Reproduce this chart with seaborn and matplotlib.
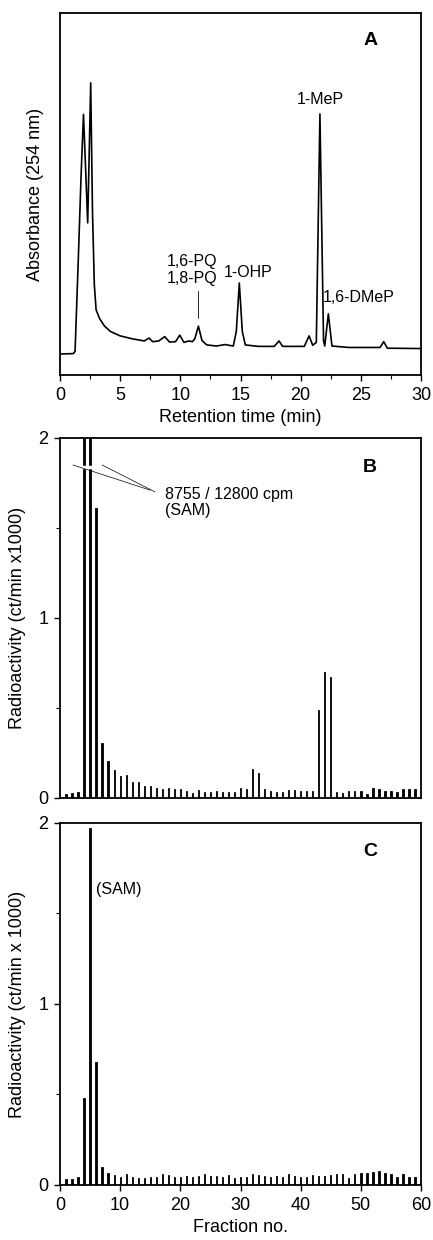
import numpy as np
import pandas as pd
import matplotlib
matplotlib.use('Agg')
import matplotlib.pyplot as plt
import seaborn as sns

sns.set_style('ticks')
plt.rcParams['font.family'] = ['Liberation Sans', 'DejaVu Sans']
plt.rcParams['text.color'] = 'black'
plt.rcParams['axes.labelcolor'] = 'black'

# panel A: chromatogram trace (time in min, absorbance in arbitrary units)
ret_time = [0, 1.1, 1.25, 1.5, 1.75, 1.95, 2.15, 2.3, 2.45, 2.55, 2.7, 2.85, 3.0, 3.3, 3.7,
            4.2, 5.0, 6.0, 7.0, 7.4, 7.7, 8.2, 8.7, 9.1, 9.6, 9.95, 10.3, 10.7, 11.0, 11.2,
            11.5, 11.8, 12.2, 13.0, 13.7, 14.4, 14.65, 14.9, 15.15, 15.4, 16.5, 17.8, 18.2,
            18.5, 20.3, 20.7, 21.0, 21.3, 21.6, 21.9, 22.0, 22.3, 22.6, 24.0, 26.6, 26.9,
            27.2, 30]
absorbance = [5.8, 5.9, 6.5, 30, 55, 72, 55, 42, 65, 80.7, 45, 25, 18, 15.5, 13.5,
              12, 10.8, 10.0, 9.4, 10.2, 9.2, 9.4, 10.6, 9.1, 9.2, 11.0, 9.0, 9.4, 9.2, 10,
              13.5, 9.5, 8.3, 8.0, 8.4, 8.0, 12, 25.4, 12, 8.3, 7.9, 7.9, 9.4,
              7.9, 7.9, 10.8, 8.2, 9, 72.1, 9.5, 8.0, 16.9, 8.0, 7.6, 7.6, 9.2,
              7.4, 7.3]

# panels B and C: radioactivity per fraction (ct/min x1000)
fractions = list(range(1, 60))
radio_b = [0.02, 0.026, 0.034, 8.755, 12.8, 1.61, 0.306, 0.205, 0.155, 0.121,
           0.125, 0.088, 0.091, 0.065, 0.065, 0.054, 0.047, 0.056, 0.047, 0.052,
           0.04, 0.028, 0.045, 0.034, 0.034, 0.037, 0.034, 0.034, 0.034, 0.054,
           0.05, 0.16, 0.136, 0.05, 0.04, 0.035, 0.034, 0.045, 0.045, 0.04,
           0.04, 0.04, 0.49, 0.70, 0.67, 0.032, 0.026, 0.037, 0.037, 0.037,
           0.022, 0.054, 0.05, 0.04, 0.04, 0.034, 0.048, 0.048, 0.048]
radio_c = [0.031, 0.031, 0.042, 0.48, 1.97, 0.68, 0.10, 0.068, 0.057, 0.046,
           0.061, 0.042, 0.039, 0.039, 0.046, 0.046, 0.059, 0.053, 0.046, 0.046,
           0.05, 0.042, 0.05, 0.061, 0.05, 0.05, 0.046, 0.057, 0.037, 0.046,
           0.042, 0.059, 0.053, 0.05, 0.046, 0.05, 0.046, 0.059, 0.05, 0.042,
           0.046, 0.053, 0.05, 0.05, 0.053, 0.061, 0.059, 0.039, 0.061, 0.068,
           0.068, 0.07, 0.077, 0.066, 0.061, 0.042, 0.059, 0.042, 0.042]

fig = plt.figure(figsize=(4.33, 12.40), dpi=100)
axA = fig.add_axes([0.1386, 0.6976, 0.8337, 0.2919])
axB = fig.add_axes([0.1386, 0.3565, 0.8337, 0.2903])
axC = fig.add_axes([0.1386, 0.0444, 0.8337, 0.2919])

fs = 13
lfs = 11.5
for ax in (axA, axB, axC):
    for s in ax.spines.values():
        s.set_linewidth(1.3)
        s.set_color('black')
    ax.tick_params(which='major', direction='out', length=4.5, width=1.0, labelsize=fs,
                   colors='black', pad=4)
    ax.tick_params(which='minor', direction='out', length=3, width=0.8, colors='black')

# A
dfA = pd.DataFrame({'t': ret_time, 'abs': absorbance})
sns.lineplot(data=dfA, x='t', y='abs', ax=axA, color='black', linewidth=1.2)
axA.set_xlim(0, 30)
axA.set_ylim(0, 100)
axA.set_xticks(range(0, 31, 5))
axA.set_xticks(np.arange(0, 30.1, 2.5), minor=True)
axA.set_yticks([])
axA.set_xlabel('Retention time (min)', fontsize=fs, labelpad=4)
axA.set_ylabel('Absorbance (254 nm)', fontsize=fs)
axA.yaxis.set_label_coords(-0.045, 0.5)
axA.text(0.859, 0.925, 'A', transform=axA.transAxes, fontsize=14, fontweight='bold', ha='center', va='center')
axA.text(21.6, 74, '1-MeP', fontsize=lfs, ha='center', va='bottom')
axA.text(11.0, 24.5, '1,6-PQ\n1,8-PQ', fontsize=lfs, ha='center', va='bottom', linespacing=1.15)
axA.plot([11.45, 11.45], [15.7, 23.3], color='black', linewidth=0.6)
axA.text(15.6, 26.3, '1-OHP', fontsize=lfs, ha='center', va='bottom')
axA.text(21.85, 21.5, '1,6-DMeP', fontsize=lfs, ha='left', va='center')

# B
dfB = pd.DataFrame({'fraction': fractions, 'cpm': radio_b})
sns.barplot(data=dfB, x='fraction', y='cpm', native_scale=True, ax=axB, color='black',
            width=0.22, edgecolor='black', linewidth=0.6)
axB.set_xlim(0, 60)
axB.set_ylim(0, 2)
axB.set_xticks([])
axB.set_yticks([0, 1, 2])
axB.set_yticks([0.5, 1.5], minor=True)
axB.set_xlabel('')
axB.set_ylabel('Radioactivity (ct/min x1000)', fontsize=fs)
axB.yaxis.set_label_coords(-0.095, 0.5)
# break mark on the off-scale bars
axB.plot([3.5, 5.5], [1.84, 1.84], color='white', linewidth=2.5, solid_capstyle='butt')
axB.plot([2.15, 15.0], [1.85, 1.71], color='black', linewidth=0.5)
axB.plot([7.0, 15.8], [1.85, 1.70], color='black', linewidth=0.5)
axB.text(17.5, 1.73, '8755 / 12800 cpm\n(SAM)', fontsize=lfs, ha='left', va='top', linespacing=1.15)
axB.text(0.859, 0.919, 'B', transform=axB.transAxes, fontsize=14, fontweight='bold', ha='center', va='center')

# C
dfC = pd.DataFrame({'fraction': fractions, 'cpm': radio_c})
sns.barplot(data=dfC, x='fraction', y='cpm', native_scale=True, ax=axC, color='black',
            width=0.22, edgecolor='black', linewidth=0.6)
axC.set_xlim(0, 60)
axC.set_ylim(0, 2)
axC.set_xticks(range(0, 61, 10))
axC.set_yticks([0, 1, 2])
axC.set_yticks([0.5, 1.5], minor=True)
axC.set_xlabel('Fraction no.', fontsize=fs, labelpad=4)
axC.set_ylabel('Radioactivity (ct/min x 1000)', fontsize=fs)
axC.yaxis.set_label_coords(-0.095, 0.5)
axC.text(5.9, 1.63, '(SAM)', fontsize=lfs, ha='left', va='center')
axC.text(0.859, 0.92, 'C', transform=axC.transAxes, fontsize=14, fontweight='bold', ha='center', va='center')

plt.savefig('out.png', dpi=100)
